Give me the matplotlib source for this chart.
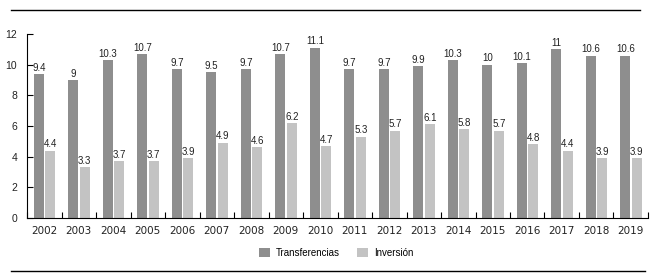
import numpy as np
import matplotlib
matplotlib.use("Agg")
import matplotlib.pyplot as plt
from matplotlib.lines import Line2D

# Data
years = ['2002', '2003', '2004', '2005', '2006', '2007', '2008', '2009', '2010',
         '2011', '2012', '2013', '2014', '2015', '2016', '2017', '2018', '2019']
transferencias = [9.4, 9, 10.3, 10.7, 9.7, 9.5, 9.7, 10.7, 11.1,
                  9.7, 9.7, 9.9, 10.3, 10, 10.1, 11, 10.6, 10.6]
inversion = [4.4, 3.3, 3.7, 3.7, 3.9, 4.9, 4.6, 6.2, 4.7,
             5.3, 5.7, 6.1, 5.8, 5.7, 4.8, 4.4, 3.9, 3.9]

dark = '#8e8e8e'
light = '#c3c3c3'

plt.rcParams['font.family'] = ['Liberation Sans', 'DejaVu Sans']

fig = plt.figure(figsize=(6.57, 2.79), dpi=100)
ax = fig.add_axes([0.0411, 0.2186, 0.9452, 0.6594])

x = np.arange(len(years))
w = 0.29
b1 = ax.bar(x - 0.155, transferencias, w, color=dark, label='Transferencias')
b2 = ax.bar(x + 0.175, inversion, w, color=light, label='Inversión')

# Value labels above each bar
for rect, v in zip(b1, transferencias):
    ax.annotate('%g' % v, (rect.get_x() + rect.get_width() / 2, rect.get_height()),
                xytext=(0, 1), textcoords='offset points', ha='center', va='bottom',
                fontsize=7, color='#222222')
for rect, v in zip(b2, inversion):
    ax.annotate('%g' % v, (rect.get_x() + rect.get_width() / 2, rect.get_height()),
                xytext=(0, 1), textcoords='offset points', ha='center', va='bottom',
                fontsize=7, color='#222222')

ax.set_xlim(-0.5, len(years) - 0.5)
ax.set_ylim(0, 12)
ax.set_yticks([0, 2, 4, 6, 8, 10, 12])

# x ticks at group boundaries, labels at centres
ax.set_xticks(np.arange(len(years) + 1) - 0.5)
ax.set_xticklabels([])
ax.set_xticks(x, minor=True)
ax.set_xticklabels(years, minor=True, fontsize=7.5, family='DejaVu Sans', color='#222222')
ax.tick_params(axis='x', which='major', direction='in', length=4, width=0.8)
ax.tick_params(axis='x', which='minor', length=0, pad=6)
ax.tick_params(axis='y', direction='in', length=4, width=0.8, labelsize=7.5, pad=7,
               labelcolor='#222222')

ax.spines['top'].set_visible(False)
ax.spines['right'].set_visible(False)
ax.spines['left'].set_linewidth(0.8)
ax.spines['bottom'].set_linewidth(0.8)

# Legend below the plot
fig.legend(handles=[b1, b2], loc='center', bbox_to_anchor=(0.512, 0.093), ncol=2,
           frameon=False, fontsize=7, handlelength=1.1, handleheight=1.1,
           columnspacing=1.8, handletextpad=0.6)

# Horizontal rules at top and bottom of the figure
fig.add_artist(Line2D([11 / 657, 640 / 657], [0.964, 0.964], color='black', lw=1.0))
fig.add_artist(Line2D([11 / 657, 645 / 657], [0.0287, 0.0287], color='black', lw=1.0))

fig.savefig('out.png', dpi=100)
